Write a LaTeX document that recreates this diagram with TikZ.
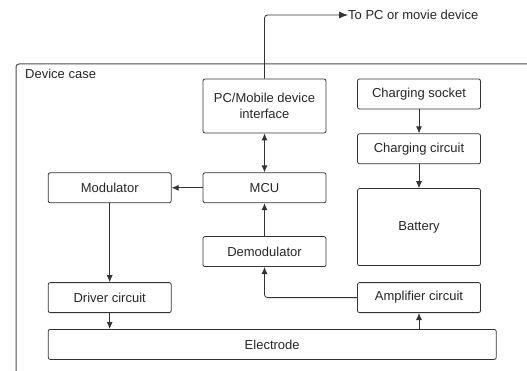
\documentclass[tikz,border=0pt]{standalone}
\usepackage{fontspec}
\setmainfont{Liberation Sans}
\usepackage{tikz}
\usetikzlibrary{arrows.meta,positioning}
\tikzset{
  blk/.style={draw=black!80, line width=0.8pt, rounded corners=2pt,
    minimum width=123pt, minimum height=30pt, inner sep=1pt, align=center,
    text=black!85, font=\fontsize{13}{16.5}\selectfont},
  lbl/.style={text=black!85, inner sep=0pt, font=\fontsize{13}{16.5}\selectfont},
  flow/.style={-{Latex[length=7pt,width=6pt]}, line width=0.8pt, draw=black!80},
  bflow/.style={{Latex[length=7pt,width=6pt]}-{Latex[length=7pt,width=6pt]},
    line width=0.8pt, draw=black!80},
  oflow/.style={-{Latex[length=9pt,width=7pt]}, line width=0.8pt, draw=black!80,
    rounded corners=3pt}
}

\begin{document}
\begin{tikzpicture}[x=1pt, y=-1pt, node distance=24pt and 31pt]
  \clip (0,0) rectangle (527,371);
  % device case (runs off the page to the right and below)
  \draw[black!70, line width=1pt, rounded corners=3pt] (16,390) -- (16,64) -- (545,64);
  \node[lbl, anchor=west] (case) at (25,74) {Device case};

  % middle column
  \node[blk, minimum height=54pt] (pcif) at (264.5,106) {PC/Mobile device\\interface};
  \node[blk, below=39pt of pcif] (mcu) {MCU};
  \node[blk, below=33pt of mcu] (demod) {Demodulator};

  % left column
  \node[blk, left=31pt of mcu] (modu) {Modulator};
  \node[blk, below=79pt of modu] (drv) {Driver circuit};
  \node[blk, below=16pt of drv.south west, anchor=north west, minimum width=448pt] (elec) {Electrode};

  % right column
  \node[blk] (sock) at (419,94) {Charging socket};
  \node[blk, below=of sock] (chg) {Charging circuit};
  \node[blk, below=of chg, minimum height=77pt] (batt) {Battery};
  \node[blk, above=16pt of elec.north -| sock, anchor=south] (amp) {Amplifier circuit};

  % outside link
  \node[lbl, anchor=west] (pc) at (348,15) {To PC or movie device};
  \draw[oflow] (pcif.north) |- (pc.west);

  % connectors
  \draw[bflow] (pcif) -- (mcu);
  \draw[flow] (mcu) -- (modu);
  \draw[flow] (modu) -- (drv);
  \draw[flow] (demod) -- (mcu);
  \draw[flow, rounded corners=3pt] (amp.west) -| (demod.south);
  \draw[flow] (drv) -- (drv.south |- elec.north);
  \draw[flow] (amp.south |- elec.north) -- (amp);
  \draw[flow] (sock) -- (chg);
  \draw[flow] (chg) -- (batt);
\end{tikzpicture}
\end{document}
